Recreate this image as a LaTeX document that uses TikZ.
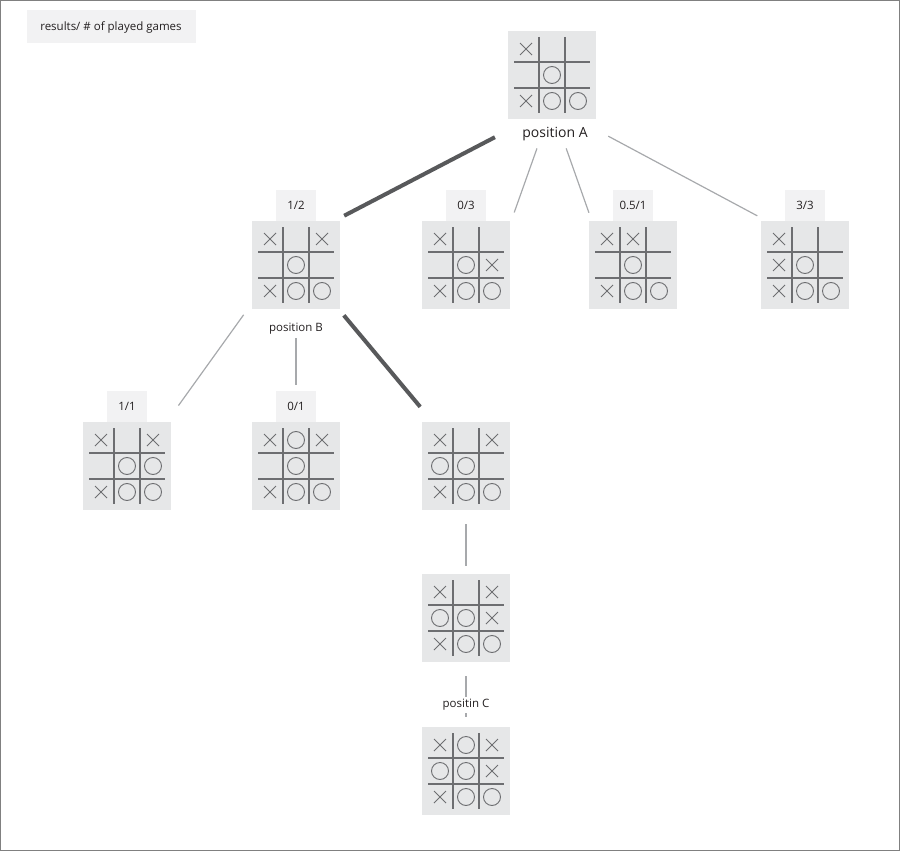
\documentclass[tikz,border=0pt]{standalone}
\usepackage{fontspec}
\setmainfont{Open Sans}
\usepackage{tikz}
\usetikzlibrary{positioning}
\definecolor{mygray}{RGB}{109, 110, 113}
\definecolor{mydark}{RGB}{88, 89, 91}
\definecolor{mylight}{RGB}{167, 169, 172}
\definecolor{myboard}{RGB}{230, 231, 232}
\definecolor{mylabel}{RGB}{242, 242, 243}
\definecolor{mytext}{RGB}{35, 31, 32}

\newcommand{\board}[3]{%
    \begin{scope}[shift={(#1)}]
        \draw[gridline] (-13,-38) -- (-13,38) (13,-38) -- (13,38) (-38,-13) -- (38,-13) (-38,13) -- (38,13);
        \foreach \c/\r in {#2}
            \draw[piece] ({26*\c-6},{26*\r-6}) -- ({26*\c+6},{26*\r+6}) ({26*\c-6},{26*\r+6}) -- ({26*\c+6},{26*\r-6});
        \foreach \c/\r in {#3}
            \draw[piece] ({26*\c},{26*\r}) circle (8.5pt);
    \end{scope}}

\begin{document}
\begin{tikzpicture}[x=1pt, y=-1pt, font=\fontsize{11.5}{14}\selectfont, text=mytext]
                \useasboundingbox (0,0) rectangle (900,851);
                \tikzstyle{box}=[rectangle, fill=myboard, minimum size=88pt, inner sep=0pt]
                \tikzstyle{lbl}=[rectangle, fill=mylabel, minimum width=40pt, minimum height=31pt, inner sep=0pt]
                \tikzstyle{gridline}=[draw=mygray, line width=1.1pt]
                \tikzstyle{piece}=[draw=mygray, line width=0.9pt]
                \draw[draw=gray, line width=1pt] (0.5,0.5) rectangle (899.5,850.5);
                \node[lbl, minimum width=169pt, minimum height=33pt] (R) at (111,27) {results/ \# of played games};

                \node[box] (A) at (552,75) {};
                \node (PA) at (555,134) {\fontsize{14}{16}\selectfont position A};
                \node[box] (B) at (296,265) {};
                \node (PB) at (296,329) {position B};
                \node[box] (A1) at (466,265) {};
                \node[box] (A2) at (633,265) {};
                \node[box] (A3) at (805,265) {};
                \node[box] (B1) at (127,466) {};
                \node[box] (B2) at (296,466) {};
                \node[box] (B3) at (466,466) {};
                \node[box] (C) at (466,618) {};
                \node[box] (C1) at (466,771) {};

                \node[lbl, above=0pt of B] (LB) {1/2};
                \node[lbl, above=0pt of A1] (LA1) {0/3};
                \node[lbl, above=0pt of A2] (LA2) {0.5/1};
                \node[lbl, above=0pt of A3] (LA3) {3/3};
                \node[lbl, above=0pt of B1] (LB1) {1/1};
                \node[lbl, above=0pt of B2] (LB2) {0/1};

                \board{A}{-1/-1, -1/1}{0/0, 0/1, 1/1}
                \board{B}{-1/-1, 1/-1, -1/1}{0/0, 0/1, 1/1}
                \board{A1}{-1/-1, 1/0, -1/1}{0/0, 0/1, 1/1}
                \board{A2}{-1/-1, 0/-1, -1/1}{0/0, 0/1, 1/1}
                \board{A3}{-1/-1, -1/0, -1/1}{0/0, 0/1, 1/1}
                \board{B1}{-1/-1, 1/-1, -1/1}{0/0, 1/0, 0/1, 1/1}
                \board{B2}{-1/-1, 1/-1, -1/1}{0/-1, 0/0, 0/1, 1/1}
                \board{B3}{-1/-1, 1/-1, -1/1}{-1/0, 0/0, 0/1, 1/1}
                \board{C}{-1/-1, 1/-1, 1/0, -1/1}{-1/0, 0/0, 0/1, 1/1}
                \board{C1}{-1/-1, 1/-1, 1/0, -1/1}{0/-1, -1/0, 0/0, 0/1, 1/1}

                \tikzstyle{bind}=[draw=mylight, line width=1.2pt]
                \tikzstyle{best}=[draw=mydark, line width=4pt]

                \draw[best, shorten <=39pt, shorten >=11pt] (A.243) -- (B.49);
                \draw[bind, shorten <=31pt, shorten >=12pt] (A.264) -- (A1.43);
                \draw[bind, shorten <=31pt, shorten >=8.5pt] (A.275) -- (A2.133);
                \draw[bind, shorten <=36pt, shorten >=10.5pt] (A.299) -- (A3.131);
                \draw[bind, shorten <=14pt, shorten >=20pt] (B.221) -- (B1.48);
                \draw[bind, shorten <=29pt, shorten >=37pt] (B.south) -- (B2.north);
                \draw[best, shorten <=8pt, shorten >=19.5pt] (B.314) -- (B3.127);
                \draw[bind, shorten <=14pt, shorten >=8pt] (B3.south) -- (C.north);
                \draw[bind, shorten <=14pt, shorten >=10pt] (C.south) -- (C1.north);
                \node[fill=white, inner sep=2pt] (PC) at (466,705) {positin C};
            \end{tikzpicture}
\end{document}
